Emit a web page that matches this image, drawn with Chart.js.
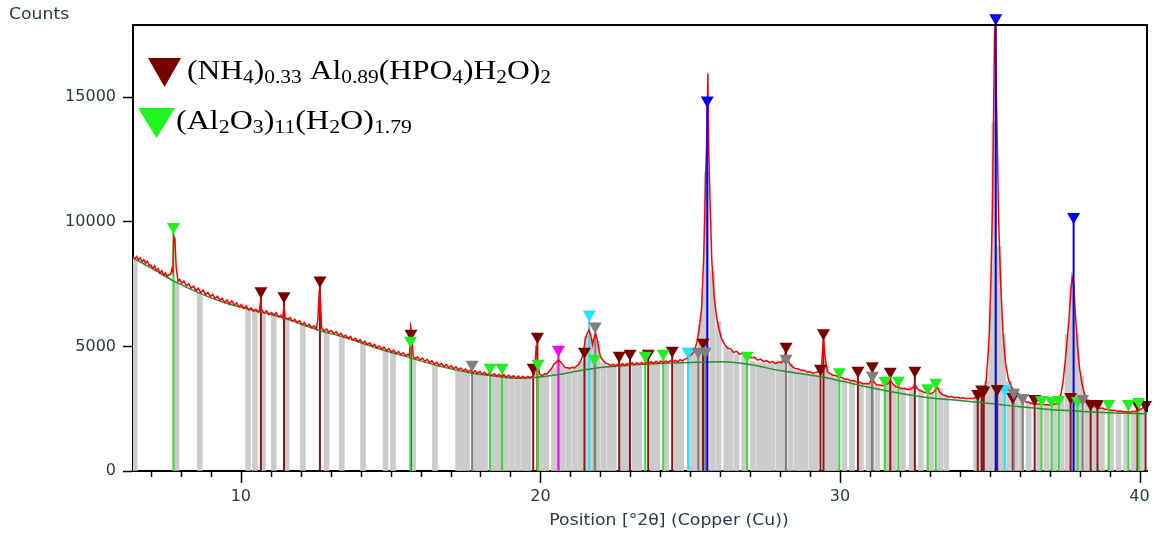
<!DOCTYPE html>
<html><head><meta charset="utf-8">
<script src="https://cdn.jsdelivr.net/npm/chart.js@4.4.1/dist/chart.umd.min.js"></script>
<style>html,body{margin:0;padding:0;background:#fff;}#wrap{position:relative;width:1163px;height:537px;}</style>
</head><body><div id="wrap"><canvas id="c" width="1163" height="537"></canvas></div>
<script>
// ---------------- DATA ----------------
const xTickLabels = [10, 20, 30, 40];
const yTickValues = [0, 5000, 10000, 15000];
const yAxisTitle = 'Counts';
const xAxisTitle = 'Position [°2θ] (Copper (Cu))';
const legendPhases = [
  [['(NH',0],['4',1],[')',0],['0.33',1],[' Al',0],['0.89',1],['(HPO',0],['4',1],[')H',0],['2',1],['O)',0],['2',1]],
  [['(Al',0],['2',1],['O',0],['3',1],[')',0],['11',1],['(H',0],['2',1],['O)',0],['1.79',1]]
];

// measured pattern [2theta, counts]
const observed = [
[6.40,8600],[6.46,8520],[6.52,8610],[6.58,8480],[6.64,8560],[6.70,8410],[6.76,8480],[6.82,8330],[6.88,8420],[6.94,8240],
[7.00,8260],[7.06,8130],[7.12,8230],[7.18,8040],[7.24,8120],[7.30,7940],[7.36,8040],[7.42,7860],[7.48,7950],[7.54,7800],
[7.60,7880],[7.66,7900],[7.70,8120],[7.73,8000],[7.76,9430],[7.80,9300],[7.84,8200],[7.90,7620],[7.96,7690],[8.02,7540],
[8.10,7620],[8.18,7430],[8.26,7510],[8.34,7340],[8.42,7420],[8.50,7230],[8.58,7330],[8.66,7160],[8.74,7260],[8.82,7080],
[8.90,7170],[8.98,7000],[9.06,7090],[9.14,6910],[9.22,7010],[9.30,6840],[9.38,6930],[9.46,6760],[9.54,6860],[9.62,6700],
[9.70,6830],[9.78,6670],[9.86,6750],[9.94,6580],[10.02,6680],[10.10,6520],[10.18,6620],[10.26,6460],[10.34,6550],[10.42,6410],
[10.50,6490],[10.58,6370],[10.62,6440],[10.66,6820],[10.70,6450],[10.78,6340],[10.86,6430],[10.94,6280],[11.02,6360],[11.10,6260],
[11.18,6350],[11.26,6180],[11.34,6260],[11.40,6140],[11.44,6620],[11.48,6170],[11.56,6080],[11.64,6160],[11.72,6010],[11.80,6090],
[11.88,5960],[11.96,6030],[12.04,5880],[12.12,5960],[12.20,5810],[12.28,5890],[12.36,5750],[12.44,5830],[12.52,5700],[12.57,6080],
[12.62,7260],[12.66,6800],[12.70,5720],[12.78,5620],[12.86,5700],[12.94,5570],[13.02,5640],[13.10,5510],[13.18,5590],[13.26,5440],
[13.34,5520],[13.42,5380],[13.50,5450],[13.58,5320],[13.66,5400],[13.74,5250],[13.82,5330],[13.90,5190],[13.98,5270],[14.06,5130],
[14.14,5210],[14.22,5070],[14.30,5140],[14.38,5000],[14.46,5080],[14.54,4950],[14.62,5020],[14.70,4890],[14.78,4970],[14.86,4830],
[14.94,4910],[15.02,4770],[15.10,4850],[15.18,4710],[15.26,4790],[15.34,4670],[15.42,4740],[15.50,4620],[15.58,4690],[15.63,4620],
[15.67,5780],[15.71,5500],[15.75,4620],[15.82,4500],[15.90,4580],[15.98,4450],[16.06,4530],[16.14,4400],[16.22,4480],[16.30,4340],
[16.38,4420],[16.46,4290],[16.54,4360],[16.62,4240],[16.70,4310],[16.78,4190],[16.86,4270],[16.94,4150],[17.02,4220],[17.10,4100],
[17.18,4180],[17.26,4060],[17.34,4130],[17.42,4020],[17.50,4090],[17.58,3980],[17.66,4050],[17.74,3940],[17.82,4020],[17.90,3910],
[17.98,3990],[18.06,3880],[18.14,3960],[18.22,3850],[18.30,3930],[18.38,3830],[18.46,3900],[18.54,3800],[18.62,3880],[18.70,3780],
[18.78,3860],[18.86,3760],[18.94,3840],[19.02,3750],[19.10,3820],[19.18,3730],[19.26,3810],[19.34,3720],[19.42,3800],[19.50,3720],
[19.58,3800],[19.66,3740],[19.74,3820],[19.80,3860],[19.86,5040],[19.92,4220],[19.98,3880],[20.06,3820],[20.14,3900],[20.22,3890],
[20.30,4010],[20.38,4120],[20.46,4300],[20.54,4370],[20.60,4460],[20.66,4390],[20.74,4280],[20.82,4150],[20.90,4140],[20.98,4120],
[21.06,4160],[21.14,4140],[21.22,4220],[21.30,4300],[21.38,4520],[21.44,4800],[21.50,5300],[21.56,5520],[21.62,5660],[21.68,5450],
[21.74,5060],[21.80,5400],[21.84,5530],[21.90,5250],[21.96,4800],[22.02,4560],[22.10,4420],[22.18,4330],[22.26,4300],[22.34,4220],
[22.42,4290],[22.50,4200],[22.58,4290],[22.66,4220],[22.74,4310],[22.82,4230],[22.90,4320],[22.98,4250],[23.06,4340],[23.14,4260],
[23.22,4350],[23.30,4280],[23.38,4360],[23.46,4280],[23.54,4370],[23.62,4300],[23.70,4390],[23.78,4310],[23.86,4400],[23.94,4320],
[24.02,4410],[24.10,4330],[24.18,4420],[24.26,4350],[24.34,4430],[24.42,4360],[24.50,4450],[24.58,4380],[24.66,4470],[24.74,4420],
[24.82,4490],[24.90,4520],[24.98,4620],[25.06,4690],[25.14,4820],[25.22,5150],[25.30,5700],[25.38,6500],[25.45,8500],[25.52,12000],
[25.56,13500],[25.59,15950],[25.62,12900],[25.66,11000],[25.72,8500],[25.80,7000],[25.88,6200],[25.96,5700],[26.05,5300],[26.15,5080],
[26.25,4930],[26.35,4900],[26.45,4760],[26.55,4800],[26.65,4680],[26.75,4720],[26.85,4620],[26.95,4650],[27.05,4540],[27.15,4560],
[27.25,4450],[27.35,4490],[27.45,4390],[27.55,4430],[27.65,4350],[27.75,4390],[27.85,4310],[27.95,4370],[28.05,4350],[28.12,4460],
[28.18,4760],[28.24,4560],[28.32,4300],[28.40,4200],[28.50,4110],[28.60,4100],[28.70,4040],[28.80,4040],[28.90,3970],[29.00,3980],
[29.10,3920],[29.20,3950],[29.30,3990],[29.38,4150],[29.45,5320],[29.50,4600],[29.58,3980],[29.66,3920],[29.76,3840],[29.86,3830],
[29.96,3750],[30.06,3750],[30.16,3680],[30.26,3680],[30.36,3620],[30.46,3630],[30.56,3570],[30.66,3570],[30.76,3500],[30.86,3510],
[30.96,3490],[31.02,3580],[31.08,3760],[31.14,3560],[31.22,3460],[31.32,3450],[31.42,3420],[31.52,3450],[31.60,3500],[31.68,3640],
[31.76,3500],[31.86,3380],[31.96,3360],[32.06,3300],[32.16,3320],[32.26,3260],[32.36,3290],[32.44,3340],[32.50,3510],[32.56,3340],
[32.64,3240],[32.74,3200],[32.84,3140],[32.94,3150],[33.04,3100],[33.12,3150],[33.20,3280],[33.26,3350],[33.32,3180],[33.42,3060],
[33.52,3030],[33.62,2970],[33.72,2990],[33.82,2940],[33.92,2960],[34.02,2920],[34.12,2940],[34.22,2900],[34.32,2920],[34.42,2900],
[34.52,2940],[34.62,2960],[34.72,3040],[34.80,3200],[34.88,3600],[34.94,4600],[34.99,5600],[35.04,7700],[35.09,10500],[35.13,14500],
[35.16,17400],[35.19,18300],[35.22,15200],[35.26,12700],[35.30,9900],[35.36,7700],[35.44,5600],[35.52,4400],[35.62,3700],[35.72,3380],
[35.82,3200],[35.92,3060],[36.02,2920],[36.12,2840],[36.22,2770],[36.32,2750],[36.42,2700],[36.52,2710],[36.62,2680],[36.72,2700],
[36.82,2660],[36.92,2670],[37.02,2640],[37.12,2670],[37.22,2700],[37.30,2820],[37.38,3100],[37.45,3600],[37.52,4400],[37.58,5200],
[37.64,6000],[37.70,7100],[37.75,7780],[37.80,7450],[37.86,6300],[37.93,5000],[38.00,4100],[38.08,3500],[38.16,3100],[38.26,2800],
[38.36,2680],[38.46,2590],[38.56,2580],[38.66,2520],[38.76,2520],[38.86,2470],[38.96,2480],[39.06,2430],[39.16,2440],[39.26,2400],
[39.36,2410],[39.46,2380],[39.56,2380],[39.66,2350],[39.76,2390],[39.86,2390],[39.96,2450],[40.06,2490],[40.16,2590],[40.25,2660]
];

// fitted background [2theta, counts]
const background = [
[6.4,8550],[7.0,8150],[7.8,7600],[8.6,7150],[9.6,6700],[10.6,6400],[11.4,6150],[12.6,5650],[13.5,5350],[14.5,4950],
[15.6,4560],[16.5,4250],[17.6,3950],[18.5,3800],[19.3,3720],[19.8,3750],[20.5,3850],[21.2,4000],[22.0,4150],[23.0,4250],
[24.2,4320],[25.3,4360],[26.1,4380],[27.0,4270],[28.0,4030],[29.0,3850],[29.5,3750],[30.0,3620],[31.0,3350],[32.0,3120],
[32.9,2950],[34.0,2830],[35.1,2700],[36.0,2580],[37.0,2470],[38.1,2390],[39.0,2340],[40.25,2300]
];

// gray profile bars [2theta, counts]
const grayBars = [
[6.46,8500],[7.85,7600],[8.63,7150],[10.24,6500],[10.47,6450],[10.74,6350],[11.1,6250],[11.53,6150],[12.07,5900],[12.86,5600],
[13.37,5400],[14.08,5100],[14.83,4850],[15.08,4750],[15.75,4550],[16.48,4250],[17.25,4050],[17.38,4020],[17.55,3980],[17.85,3920],
[18.0,3900],[18.15,3880],[18.45,3840],[18.6,3820],[18.85,3790],[19.05,3770],[19.25,3760],[19.45,3750],[19.6,3750],[20.05,3800],
[20.2,3850],[20.45,4100],[20.6,4400],[20.75,4200],[20.95,4100],[21.15,4150],[21.35,4400],[21.55,5400],[21.7,5300],[21.9,5200],
[22.1,4350],[22.3,4250],[22.45,4250],[22.75,4280],[22.9,4300],[23.15,4300],[23.3,4300],[23.75,4330],[23.9,4350],[24.2,4350],
[24.55,4400],[24.7,4420],[25.05,4700],[25.2,4900],[25.35,5900],[25.45,7000],[25.55,12000],[25.75,8000],[25.95,6000],[26.2,5000],
[26.35,4800],[26.55,4700],[26.8,4600],[27.1,4400],[27.3,4350],[27.45,4320],[27.6,4300],[27.75,4300],[27.95,4350],[28.1,4500],
[28.35,4300],[28.55,4050],[28.7,4000],[28.85,3950],[29.05,3900],[29.2,3880],[29.55,4200],[29.7,3850],[29.85,3750],[30.15,3650],
[30.4,3620],[30.7,3550],[30.95,3500],[31.25,3450],[31.6,3550],[31.8,3500],[32.1,3300],[32.4,3400],[32.7,3200],[33.05,3100],
[33.35,3300],[33.55,3000],[34.55,2950],[34.7,3000],[34.9,3600],[35.05,6500],[35.15,14000],[35.3,9000],[35.45,5500],[35.65,3600],
[35.85,3300],[36.05,3000],[36.3,2750],[36.65,2680],[36.9,2650],[37.15,2650],[37.4,2900],[37.6,5500],[37.75,7500],[37.9,5500],
[38.05,3800],[38.25,2900],[38.5,2650],[38.75,2550],[39.05,2450],[39.3,2400],[39.55,2380],[39.8,2400],[40.05,2450]
];

// reference peak markers [2theta, counts]
const phaseNH4 = [
[10.67,7220],[11.44,7020],[12.64,7660],[15.68,5520],[19.76,4150],[19.9,5400],[21.47,4800],[22.63,4640],[22.99,4720],[23.6,4720],
[24.4,4840],[25.43,5160],[28.2,5000],[29.35,4110],[29.45,5540],[30.6,4030],[31.08,4210],[31.68,3990],[32.5,4030],[34.6,3100],
[34.73,3280],[34.8,3230],[35.25,3300],[35.77,2980],[36.5,2900],[37.7,2980],[38.37,2700],[38.6,2700],[39.93,2700],[40.2,2660]
];
const phaseAl2O3 = [
[7.75,9800],[15.66,5240],[18.32,4150],[18.72,4150],[19.92,4310],[21.8,4520],[23.5,4640],[24.1,4720],[26.9,4640],[29.98,3970],
[31.5,3630],[31.95,3630],[32.93,3330],[33.2,3550],[36.73,2860],[37.06,2820],[37.3,2860],[37.93,2820],[38.97,2700],[39.63,2700],[39.97,2780]
];
const phaseGray = [[17.72,4270],[21.83,5810],[25.27,4800],[25.5,4800],[28.2,4520],[31.08,3830],[35.8,3150],[36.1,2940],[38.1,2900]];
const phaseCyan = [[21.63,6290],[24.93,4800],[35.5,3300]];
const phaseMagenta = [[20.6,4880]];
const phaseBlue = [[25.57,14880],[35.2,18180],[37.8,10200]];

// ---------------- BUILD ----------------
const pts = a => a.map(p => ({x: p[0], y: p[1]}));
const sticks = a => { const r = []; a.forEach(p => { r.push({x:p[0],y:0},{x:p[0],y:p[1]},{x:p[0],y:null}); }); return r; };

const COL = {nh4:'#7a0000', nh4s:'#8a1414', al:'#22ee22', als:'#33dd33', gray:'#808080', cyan:'#22e4ff', mag:'#ff00ff', blue:'#0000ff'};
const stickDs = (a, c, order, clip) => ({type:'line', data: sticks(a), borderColor:c, borderWidth:2, pointRadius:0, spanGaps:false, order, clip: clip?false:undefined});
const markDs = (a, c) => ({type:'scatter', data: pts(a), pointStyle:'triangle', rotation:180, pointRadius:7.5, pointHoverRadius:7.5, backgroundColor:c, borderColor:c, borderWidth:0, order:1, clip:false});

const FONT = 'DejaVu Sans';
const TXT = '#2a3a4c';

const decor = {
  id:'decor',
  afterDraw(chart){
    const ctx = chart.ctx, xs = chart.scales.x, ca = chart.chartArea;
    ctx.save();
    // x ticks (major long, minor short)
    ctx.strokeStyle = '#000'; ctx.lineWidth = 1.5;
    for (let v = Math.ceil(xs.min); v <= xs.max; v++) {
      const major = v % 10 === 0;
      const px = Math.round(xs.getPixelForValue(v)) + 0.5;
      ctx.beginPath(); ctx.moveTo(px, ca.bottom); ctx.lineTo(px, ca.bottom + (major ? 12 : 6)); ctx.stroke();
    }
    // frame top and right
    ctx.lineWidth = 2;
    ctx.beginPath(); ctx.moveTo(ca.left, ca.top); ctx.lineTo(ca.right, ca.top); ctx.lineTo(ca.right, 412); ctx.stroke();
    // axis titles (slightly widened like the source)
    ctx.fillStyle = TXT; ctx.font = '15px "' + FONT + '"';
    ctx.textBaseline = 'middle';
    const wide = (t, x, y, align) => { ctx.save(); ctx.translate(x, y); ctx.scale(1.15, 1); ctx.textAlign = align; ctx.fillText(t, 0, 0); ctx.restore(); };
    wide(yAxisTitle, 9, 15, 'left');
    wide(xAxisTitle, 669, 521, 'center');
    // legend
    const tri = (x1, x2, yt, yb, c) => { ctx.fillStyle = c; ctx.beginPath(); ctx.moveTo(x1, yt); ctx.lineTo(x2, yt); ctx.lineTo((x1+x2)/2, yb); ctx.closePath(); ctx.fill(); };
    tri(148, 181, 58, 87, COL.nh4);
    tri(138, 175, 108, 138, '#1ff51f');
    const drawRich = (segs, x0, base, targetW) => {
      const big = '28px "Liberation Serif"', small = '19px "Liberation Serif"';
      let w = 0;
      segs.forEach(s => { ctx.font = s[1] ? small : big; w += ctx.measureText(s[0]).width; });
      const sx = targetW / w;
      ctx.save(); ctx.translate(x0, base); ctx.scale(sx, 1);
      ctx.fillStyle = '#000'; ctx.textAlign = 'left'; ctx.textBaseline = 'alphabetic';
      let x = 0;
      segs.forEach(s => { ctx.font = s[1] ? small : big; ctx.fillText(s[0], x, s[1] ? 4 : 0); x += ctx.measureText(s[0]).width; });
      ctx.restore();
    };
    drawRich(legendPhases[0], 187, 79, 364);
    drawRich(legendPhases[1], 176, 129, 236);
    ctx.restore();
  }
};

new Chart(document.getElementById('c'), {
  data: {
    datasets: [
      {type:'bar', data: pts(grayBars), backgroundColor:'#cccccc', borderWidth:0, barThickness:5, grouped:false, order:10},
      stickDs(phaseGray, COL.gray, 8),
      stickDs(phaseAl2O3, COL.als, 8),
      stickDs(phaseNH4, COL.nh4s, 8),
      stickDs(phaseCyan, COL.cyan, 8),
      stickDs(phaseMagenta, COL.mag, 8),
      {type:'line', data: pts(background), borderColor:'#2e8b2e', borderWidth:1.5, pointRadius:0, cubicInterpolationMode:'monotone', order:7},
      {type:'line', data: pts(observed), borderColor:'#ff0000', borderWidth:1.5, pointRadius:0, tension:0, order:6},
      stickDs(phaseBlue, COL.blue, 5, true),
      markDs(phaseGray, COL.gray),
      markDs(phaseAl2O3, COL.al),
      markDs(phaseNH4, COL.nh4),
      markDs(phaseCyan, COL.cyan),
      markDs(phaseMagenta, COL.mag),
      markDs(phaseBlue, COL.blue)
    ]
  },
  options: {
    responsive:false, animation:false, devicePixelRatio:1,
    layout:{padding:{left:0, top:25, right:16, bottom:0}},
    plugins:{legend:{display:false}, tooltip:{enabled:false}},
    scales:{
      x:{type:'linear', min:6.4, max:40.25, offset:false,
        afterBuildTicks: s => { s.ticks = xTickLabels.map(v => ({value:v})); },
        afterFit: s => { s.height = 66; },
        border:{color:'#000', width:2},
        grid:{drawOnChartArea:false, drawTicks:true, tickLength:12, tickColor:'rgba(0,0,0,0)'},
        ticks:{padding:4, color:TXT, font:{family:FONT, size:16}, maxRotation:0, autoSkip:false, callback: v => String(v)}
      },
      y:{type:'linear', min:0, max:17900,
        afterBuildTicks: s => { s.ticks = yTickValues.map(v => ({value:v})); },
        afterFit: s => { s.width = 133; },
        border:{color:'#000', width:2},
        grid:{drawOnChartArea:false, drawTicks:true, tickLength:10, tickColor:'#000', tickWidth:1.5},
        ticks:{padding:7, color:TXT, font:{family:FONT, size:16}, callback: v => String(v)}
      }
    }
  },
  plugins:[decor]
});
</script></body></html>
